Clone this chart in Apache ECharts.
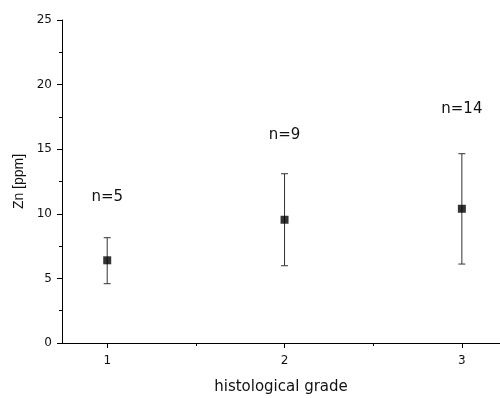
<!DOCTYPE html>
<html>
<head>
<meta charset="utf-8">
<style>
html,body{margin:0;padding:0;background:#fff;}
#c{width:500px;height:398px;}
</style>
<script src="https://cdn.jsdelivr.net/npm/echarts@6/dist/echarts.min.js"></script>
</head>
<body>
<div id="c"></div>
<script>
// ---- data ----
var grades = [1, 2, 3];
var means = [6.40, 9.54, 10.39];
var upper = [8.15, 13.10, 14.65];
var lower = [4.59, 5.98, 6.11];
var nLabels = ['n=5', 'n=9', 'n=14'];
var labelY = [11.3, 16.1, 18.1];
var xTicks = [1, 2, 3];
var xMinorTicks = [1.5, 2.5];
var yTicks = [0, 5, 10, 15, 20, 25];

var chart = echarts.init(document.getElementById('c'), null, {renderer: 'canvas'});

var errData = grades.map(function (g, i) { return [g, lower[i], upper[i]]; });
var meanData = grades.map(function (g, i) { return [g, means[i]]; });
var labData = grades.map(function (g, i) { return [g, labelY[i], nLabels[i]]; });

var option = {
  animation: false,
  backgroundColor: '#fff',
  grid: {left: 62, top: 20, right: 0, bottom: 55, containLabel: false, outerBoundsMode: 'none'},
  xAxis: [{
    type: 'value', min: 0.745, max: 3.215,
    name: 'histological grade', nameLocation: 'middle', nameGap: 37,
    nameTextStyle: {fontFamily: 'DejaVu Sans', fontSize: 15, color: '#111'},
    axisLine: {show: true, lineStyle: {color: '#000', width: 1}},
    axisTick: {show: true, inside: false, length: 5, customValues: xTicks, lineStyle: {color: '#000'}},
    axisLabel: {show: true, margin: 12, customValues: xTicks, fontFamily: 'DejaVu Sans', fontSize: 12, color: '#111'},
    splitLine: {show: false}
  }, {
    type: 'value', min: 0.745, max: 3.215, position: 'bottom',
    axisLine: {show: false},
    axisTick: {show: true, length: 3, customValues: xMinorTicks, lineStyle: {color: '#000'}},
    axisLabel: {show: false},
    splitLine: {show: false}
  }],
  yAxis: {
    type: 'value', min: 0, max: 25, interval: 5,
    name: 'Zn [ppm]', nameLocation: 'middle', nameGap: 33,
    nameTextStyle: {fontFamily: 'Liberation Sans', fontSize: 14, color: '#111'},
    axisLine: {show: true, lineStyle: {color: '#000', width: 1}},
    axisTick: {show: true, length: 5, lineStyle: {color: '#000'}},
    minorTick: {show: true, splitNumber: 2, length: 3, lineStyle: {color: '#000'}},
    axisLabel: {margin: 10, fontFamily: 'DejaVu Sans', fontSize: 12, color: '#111'},
    splitLine: {show: false}
  },
  series: [{
    type: 'custom',
    xAxisIndex: 0,
    data: errData,
    renderItem: function (params, api) {
      var x = api.value(0);
      var lo = api.coord([x, api.value(1)]);
      var hi = api.coord([x, api.value(2)]);
      var hw = 3.5;
      var st = {stroke: '#333', lineWidth: 1};
      return {type: 'group', children: [
        {type: 'line', shape: {x1: lo[0], y1: lo[1], x2: hi[0], y2: hi[1]}, style: st},
        {type: 'line', shape: {x1: lo[0] - hw, y1: lo[1], x2: lo[0] + hw, y2: lo[1]}, style: st},
        {type: 'line', shape: {x1: hi[0] - hw, y1: hi[1], x2: hi[0] + hw, y2: hi[1]}, style: st}
      ]};
    },
    z: 2
  }, {
    type: 'scatter',
    xAxisIndex: 0,
    data: meanData,
    symbol: 'rect',
    symbolSize: 8,
    itemStyle: {color: '#000'},
    z: 3
  }, {
    type: 'custom',
    xAxisIndex: 0,
    data: labData,
    renderItem: function (params, api) {
      var p = api.coord([api.value(0), api.value(1)]);
      return {type: 'text', x: p[0], y: p[1], style: {
        text: nLabels[params.dataIndex], fontFamily: 'DejaVu Sans', fontSize: 15,
        fill: '#111', align: 'center', verticalAlign: 'middle'
      }};
    },
    z: 4
  }]
};
chart.setOption(option);
</script>
</body>
</html>
